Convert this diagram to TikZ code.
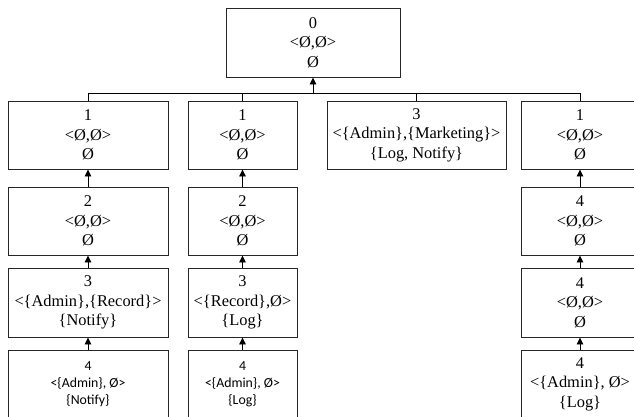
\documentclass[tikz,border=0pt]{standalone}
\usepackage{fontspec}
\setmainfont{Liberation Serif}
\newfontfamily\boxsans{Carlito}
\usetikzlibrary{arrows.meta}

\begin{document}
\begin{tikzpicture}[x=1pt,y=-1pt,
  statebox/.style={draw=black!85, line width=0.9pt, inner sep=0pt, align=center,
    font=\fontsize{16.4}{19.5}\selectfont},
  sansbox/.style={statebox, font=\boxsans\fontsize{13.8}{17}\selectfont},
  colA/.style={minimum width=160pt},
  colB/.style={minimum width=109pt},
  colC/.style={minimum width=179pt},
  colD/.style={minimum width=118pt},
  rowh/.style={minimum height=68pt},
  link/.style={draw=black, line width=0.9pt},
  uparrow/.style={link, -{Triangle[width=6.5pt,length=7pt]}}
]
\useasboundingbox (0,0) rectangle (634,416);

% root
\node[statebox, minimum width=174pt, minimum height=69pt] (n0) at (313,42.5) {0\\<Ø,Ø>\\Ø};

% first column
\node[statebox, colA, rowh] (a1) at (88,135) {1\\<Ø,Ø>\\Ø};
\node[statebox, colA, rowh] (a2) at (88,221) {2\\<Ø,Ø>\\Ø};
\node[statebox, colA, minimum height=69pt] (a3) at (88,302.5) {3\\<\{Admin\},\{Record\}>\\\{Notify\}};
\node[sansbox, colA, rowh] (a4) at (88,384) {4\\<\{Admin\}, Ø>\\\{Notify\}};

% second column
\node[statebox, colB, rowh] (b1) at (242.5,135) {1\\<Ø,Ø>\\Ø};
\node[statebox, colB, rowh] (b2) at (242.5,221) {2\\<Ø,Ø>\\Ø};
\node[statebox, colB, minimum height=69pt] (b3) at (242.5,302.5) {3\\<\{Record\},Ø>\\\{Log\}};
\node[sansbox, colB, rowh] (b4) at (242.5,384) {4\\<\{Admin\}, Ø>\\\{Log\}};

% third column
\node[statebox, colC, rowh] (c1) at (416.5,135) {3\\<\{Admin\},\{Marketing\}>\\\{Log, Notify\}};

% fourth column
\node[statebox, colD, rowh] (d1) at (580,135) {1\\<Ø,Ø>\\Ø};
\node[statebox, colD, rowh] (d2) at (580,221) {4\\<Ø,Ø>\\Ø};
\node[statebox, colD, minimum height=69pt] (d3) at (580,302.5) {4\\<Ø,Ø>\\Ø};
\node[statebox, colD, rowh] (d4) at (580,384) {4\\<\{Admin\}, Ø>\\\{Log\}};

% bus joining the first row to the root
\coordinate (bus) at (313,93);
\draw[uparrow] (bus) -- (n0.south);
\draw[link] (a1.north |- bus) -- (d1.north |- bus);
\foreach \c in {a1,b1,c1,d1}
  \draw[link] (\c.north) -- (\c.north |- bus);

% chains within the columns
\foreach \lo/\hi in {a2/a1,a3/a2,a4/a3,b2/b1,b3/b2,b4/b3,d2/d1,d3/d2,d4/d3}
  \draw[uparrow] (\lo.north) -- (\hi.south);
\end{tikzpicture}
\end{document}
